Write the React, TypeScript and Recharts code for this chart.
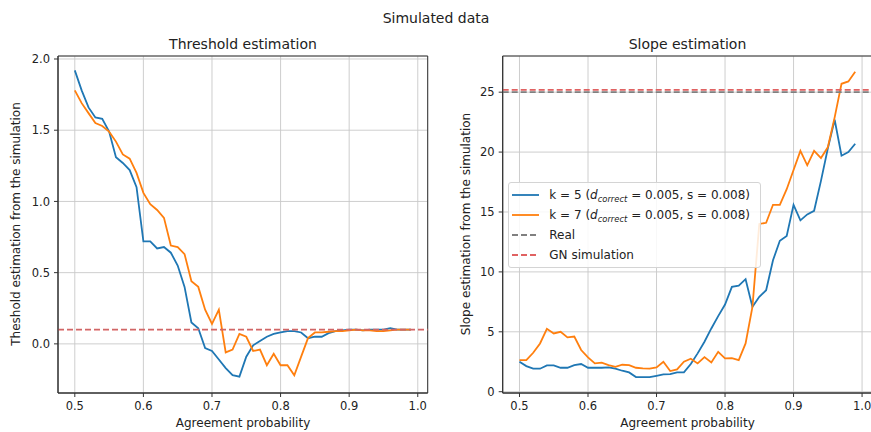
import {
  CartesianGrid,
  Legend,
  Line,
  LineChart,
  ReferenceArea,
  ReferenceLine,
  XAxis,
  YAxis,
} from "recharts";

const agreement = [
  0.5, 0.51, 0.52, 0.53, 0.54, 0.55, 0.56, 0.57, 0.58, 0.59,
  0.6, 0.61, 0.62, 0.63, 0.64, 0.65, 0.66, 0.67, 0.68, 0.69,
  0.7, 0.71, 0.72, 0.73, 0.74, 0.75, 0.76, 0.77, 0.78, 0.79,
  0.8, 0.81, 0.82, 0.83, 0.84, 0.85, 0.86, 0.87, 0.88, 0.89,
  0.9, 0.91, 0.92, 0.93, 0.94, 0.95, 0.96, 0.97, 0.98, 0.99,
];

const thresholdK5 = [
  1.92, 1.78, 1.66, 1.59, 1.58, 1.49, 1.31, 1.27, 1.22, 1.1,
  0.72, 0.72, 0.67, 0.68, 0.64, 0.55, 0.4, 0.15, 0.11, -0.03,
  -0.05, -0.11, -0.17, -0.22, -0.23, -0.09, -0.01, 0.02, 0.05, 0.07,
  0.08, 0.09, 0.09, 0.08, 0.04, 0.05, 0.05, 0.075, 0.09, 0.095,
  0.1, 0.1, 0.095, 0.1, 0.1, 0.1, 0.11, 0.1, 0.1, 0.1,
];

const thresholdK7 = [
  1.78, 1.69, 1.62, 1.55, 1.53, 1.49, 1.42, 1.33, 1.3, 1.2,
  1.06, 0.98, 0.94, 0.885, 0.69, 0.68, 0.63, 0.44, 0.4, 0.24,
  0.14, 0.24, -0.06, -0.04, 0.07, 0.05, -0.05, -0.04, -0.15, -0.07,
  -0.15, -0.15, -0.22, -0.09, 0.04, 0.08, 0.08, 0.085, 0.09, 0.09,
  0.095, 0.1, 0.095, 0.095, 0.09, 0.09, 0.095, 0.1, 0.1, 0.1,
];

const slopeK5 = [
  2.5, 2.14, 1.92, 1.92, 2.2, 2.2, 2.0, 2.0, 2.22, 2.31,
  2.0, 2.0, 2.0, 2.03, 1.92, 1.75, 1.61, 1.22, 1.22, 1.22,
  1.33, 1.44, 1.47, 1.61, 1.61, 2.31, 3.2, 4.17, 5.28, 6.31,
  7.28, 8.75, 8.86, 9.39, 7.08, 7.92, 8.47, 10.97, 12.6, 13.0,
  15.6, 14.3, 14.8, 15.1, 17.6, 20.3, 22.7, 19.7, 20.0, 20.7,
];

const slopeK7 = [
  2.64, 2.64, 3.25, 4.03, 5.25, 4.86, 5.0, 4.53, 4.6, 3.48,
  2.86, 2.36, 2.42, 2.22, 2.08, 2.25, 2.22, 2.0, 1.94, 1.92,
  2.03, 2.5, 1.72, 1.86, 2.5, 2.75, 2.36, 2.89, 2.44, 3.33,
  2.78, 2.81, 2.64, 4.03, 7.08, 14.0, 14.1, 15.6, 15.6, 16.9,
  18.5, 20.1, 18.9, 20.1, 19.5, 20.4, 22.9, 25.7, 25.9, 26.7,
];

const xTicks = [0.5, 0.6, 0.7, 0.8, 0.9, 1.0];
const thresholdTicks = [0, 0.5, 1, 1.5, 2];
const slopeTicks = [0, 5, 10, 15, 20, 25];

const realThreshold = 0.1;
const gnThreshold = 0.1;
const realSlope = 25;
const gnSlope = 25.2;

const BLUE = "#1f77b4";
const ORANGE = "#ff7f0e";
const GRAY = "#808080";
const RED = "#e06262";
const FONT = "DejaVu Sans";
const TEXT = "#222";

const thresholdData = agreement.map((x, i) => ({
  x,
  k5: thresholdK5[i],
  k7: thresholdK7[i],
}));

const slopeData = agreement.map((x, i) => ({
  x,
  k5: slopeK5[i],
  k7: slopeK7[i],
}));

const tickStyle = { fill: TEXT, fontSize: 11.5, fontFamily: FONT };
const X_DOMAIN: [number, number] = [0.4755, 1.0145];
const THRESHOLD_DOMAIN: [number, number] = [-0.345, 2.021];
const SLOPE_DOMAIN: [number, number] = [-0.108, 28.02];

const Sub = ({ k }: { k: number }) => (
  <span>
    k = {k} (<i>d</i>
    <sub style={{ fontSize: "70%", fontStyle: "italic", verticalAlign: "-0.3em" }}>correct</sub> = 0.005, s = 0.008)
  </span>
);

const legendItems = [
  { color: BLUE, dashed: false, label: <Sub k={5} /> },
  { color: ORANGE, dashed: false, label: <Sub k={7} /> },
  { color: GRAY, dashed: true, label: <span>Real</span> },
  { color: RED, dashed: true, label: <span>GN simulation</span> },
];

function SlopeLegend() {
  return (
    <div
      style={{
        border: "1px solid #d4d4d4",
        borderRadius: 3,
        background: "rgba(255,255,255,0.85)",
        padding: "2px 10px 2px 3px",
        fontFamily: FONT,
        fontSize: 12,
        color: TEXT,
        whiteSpace: "nowrap",
      }}
    >
      {legendItems.map((item, i) => (
        <div key={i} style={{ height: 20, display: "flex", alignItems: "center" }}>
          <svg width={27} height={6} style={{ marginRight: 10 }}>
            <line
              x1={0}
              x2={27}
              y1={3}
              y2={3}
              stroke={item.color}
              strokeWidth={1.8}
              strokeDasharray={item.dashed ? "6 3" : undefined}
            />
          </svg>
          {item.label}
        </div>
      ))}
    </div>
  );
}

export default function App() {
  return (
    <div
      style={{
        position: "absolute",
        left: 0,
        top: 0,
        width: 871,
        height: 432,
        overflow: "hidden",
        background: "#fff",
      }}
    >
      <div style={{ position: "absolute", left: 0, top: 0 }}>
        <LineChart
          width={440}
          height={432}
          data={thresholdData}
          margin={{ top: 56, right: 12.3, bottom: 9, left: 8 }}
        >
          <CartesianGrid stroke="#c8c8c8" strokeWidth={0.9} />
          <XAxis
            dataKey="x"
            type="number"
            domain={X_DOMAIN}
            ticks={xTicks}
            tickFormatter={(v: number) => v.toFixed(1)}
            tick={tickStyle}
            tickSize={4}
            tickMargin={5}
            height={30}
            stroke="#333"
            allowDataOverflow
          />
          <YAxis
            type="number"
            domain={THRESHOLD_DOMAIN}
            ticks={thresholdTicks}
            tickFormatter={(v: number) => v.toFixed(1)}
            tick={tickStyle}
            tickSize={4}
            tickMargin={4}
            width={50}
            stroke="#333"
            allowDataOverflow
          />
          <Line dataKey="k5" stroke={BLUE} strokeWidth={1.8} dot={false} isAnimationActive={false} />
          <Line dataKey="k7" stroke={ORANGE} strokeWidth={1.8} dot={false} isAnimationActive={false} />
          <ReferenceLine y={gnThreshold} stroke={RED} strokeWidth={1.8} strokeDasharray="6 3" />
          <ReferenceLine y={realThreshold} stroke={GRAY} strokeWidth={0.8} strokeOpacity={0.25} strokeDasharray="6 3" />
          <ReferenceArea
            x1={X_DOMAIN[0]}
            x2={X_DOMAIN[1]}
            y1={THRESHOLD_DOMAIN[0]}
            y2={THRESHOLD_DOMAIN[1]}
            fill="none"
            fillOpacity={0}
            stroke="#333"
            strokeWidth={1}
          />
        </LineChart>
      </div>

      <div style={{ position: "absolute", left: 445, top: 0 }}>
        <LineChart
          width={430}
          height={432}
          data={slopeData}
          margin={{ top: 56, right: 3, bottom: 9, left: 7.7 }}
        >
          <CartesianGrid stroke="#c8c8c8" strokeWidth={0.9} />
          <XAxis
            dataKey="x"
            type="number"
            domain={X_DOMAIN}
            ticks={xTicks}
            tickFormatter={(v: number) => v.toFixed(1)}
            tick={tickStyle}
            tickSize={4}
            tickMargin={5}
            height={30}
            stroke="#333"
            allowDataOverflow
          />
          <YAxis
            type="number"
            domain={SLOPE_DOMAIN}
            ticks={slopeTicks}
            tick={tickStyle}
            tickSize={4}
            tickMargin={4}
            width={50}
            stroke="#333"
            allowDataOverflow
          />
          <Line dataKey="k5" stroke={BLUE} strokeWidth={1.8} dot={false} isAnimationActive={false} />
          <Line dataKey="k7" stroke={ORANGE} strokeWidth={1.8} dot={false} isAnimationActive={false} />
          <ReferenceLine y={realSlope} stroke={GRAY} strokeWidth={1.8} strokeDasharray="6 3" />
          <ReferenceLine y={gnSlope} stroke={RED} strokeWidth={1.8} strokeDasharray="6 3" />
          <ReferenceArea
            x1={X_DOMAIN[0]}
            x2={X_DOMAIN[1]}
            y1={SLOPE_DOMAIN[0]}
            y2={SLOPE_DOMAIN[1]}
            fill="none"
            fillOpacity={0}
            stroke="#333"
            strokeWidth={1}
          />
          <Legend
            layout="vertical"
            align="center"
            verticalAlign="middle"
            content={() => <SlopeLegend />}
            wrapperStyle={{ left: 63.3, top: 182.3, width: "auto", height: "auto" }}
          />
        </LineChart>
      </div>

      <svg
        width={871}
        height={432}
        style={{ position: "absolute", left: 0, top: 0, pointerEvents: "none" }}
        fontFamily={FONT}
        fill={TEXT}
      >
        <text x={436} y={18} fontSize={14} textAnchor="middle" dominantBaseline="central">
          Simulated data
        </text>
        <text x={243} y={44} fontSize={14} textAnchor="middle" dominantBaseline="central">
          Threshold estimation
        </text>
        <text x={687.5} y={44} fontSize={14} textAnchor="middle" dominantBaseline="central">
          Slope estimation
        </text>
        <text x={243} y={423} fontSize={12} textAnchor="middle" dominantBaseline="central">
          Agreement probability
        </text>
        <text x={687.5} y={423} fontSize={12} textAnchor="middle" dominantBaseline="central">
          Agreement probability
        </text>
        <text
          transform="translate(16,224) rotate(-90)"
          fontSize={12}
          textAnchor="middle"
          dominantBaseline="central"
        >
          Theshold estimation from the simulation
        </text>
        <text
          transform="translate(466,224) rotate(-90)"
          fontSize={12}
          textAnchor="middle"
          dominantBaseline="central"
        >
          Slope estimation from the simulation
        </text>
      </svg>
    </div>
  );
}
